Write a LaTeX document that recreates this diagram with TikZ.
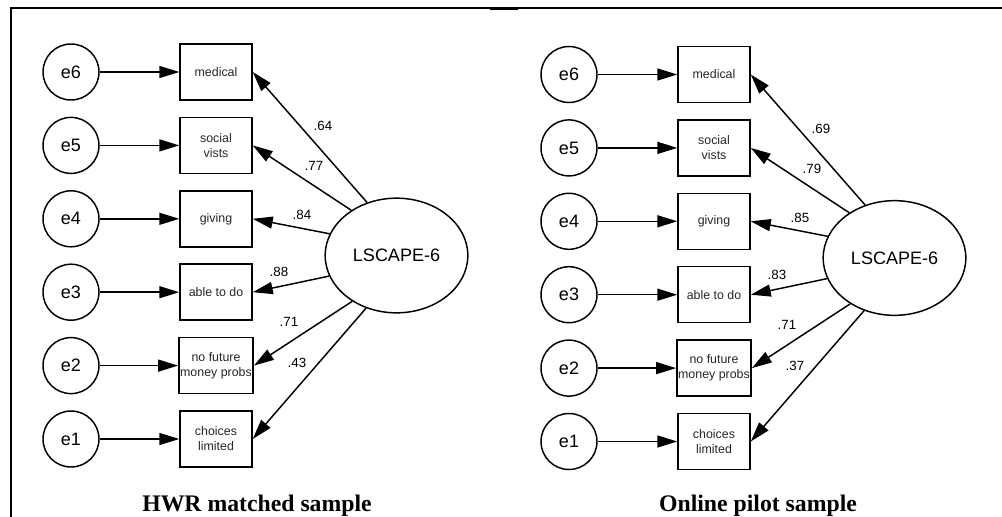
\documentclass[tikz,border=0pt]{standalone}
\usepackage{fontspec}
\setmainfont{Liberation Serif}
\newfontfamily\arialfont{Liberation Sans}
\usetikzlibrary{arrows.meta,shapes.geometric}

\tikzset{
    errnode/.style={draw, circle, line width=1.1pt, minimum size=42pt, inner sep=0pt,
        font=\arialfont\fontsize{13.5}{15}\selectfont},
    obsbox/.style={draw, rectangle, line width=1.1pt, minimum width=54pt, minimum height=42pt,
        inner sep=1pt, align=center, text=black!85, font=\arialfont\fontsize{9.3}{11.25}\selectfont},
    latent/.style={draw, ellipse, line width=1.1pt, minimum width=107pt, minimum height=86pt,
        inner sep=0pt, font=\arialfont\fontsize{13.5}{16}\selectfont},
    loadarrow/.style={line width=1.1pt, -{Triangle[length=15pt, width=9pt]}},
    weight/.style={font=\arialfont\fontsize{10}{11}\selectfont},
    caption/.style={anchor=base, font=\bfseries\fontsize{17.8}{20}\selectfont}
}

\begin{document}
\begin{tikzpicture}[x=0.75pt, y=-0.75pt]
    \useasboundingbox (0,0) rectangle (1002,517);

    % Draw the frame
    \draw[line width=1.6pt] (11,517) -- (11,8) -- (1002,8);
    \draw[line width=2.6pt] (490,8.5) -- (518,8.5);

    % HWR matched sample
    \node[latent] (hwr) at (396.5,255.5) {LSCAPE-6};
    \foreach \i/\txt/\ang/\w/\lx/\ly in {6/medical/119/.64/323/126, 5/{social\\vists}/135/.77/314/166,
        4/giving/162/.84/302/215, 3/able to do/197/.88/279/272,
        2/{no future\\money probs}/226/.71/289/322, 1/{choices\\limited}/240/.43/297/363} {
        \pgfmathsetmacro\yy{72+(6-\i)*73.4}
        \node[errnode] (he\i) at (71,\yy) {e\i};
        \node[obsbox] (hv\i) at (216,\yy) {\txt};
        \draw[loadarrow] (he\i) -- (hv\i);
        \draw[loadarrow] (hwr.\ang) -- (hv\i.east);
        \node[weight] at (\lx,\ly) {\w};
    }
    \node[caption] (hcap) at (257,511) {HWR matched sample};

    % Online pilot sample
    \begin{scope}[shift={(498,2.5)}]
        \node[latent] (onl) at (396.5,255.5) {LSCAPE-6};
        \foreach \i/\txt/\ang/\w/\lx/\ly in {6/medical/119/.69/323/126, 5/{social\\vists}/135/.79/314/166,
            4/giving/162/.85/302/215, 3/able to do/197/.83/279/272,
            2/{no future\\money probs}/226/.71/289/322, 1/{choices\\limited}/240/.37/297/363} {
            \pgfmathsetmacro\yy{72+(6-\i)*73.4}
            \node[errnode] (oe\i) at (71,\yy) {e\i};
            \node[obsbox] (ov\i) at (216,\yy) {\txt};
            \draw[loadarrow] (oe\i) -- (ov\i);
            \draw[loadarrow] (onl.\ang) -- (ov\i.east);
            \node[weight] at (\lx,\ly) {\w};
        }
        \node[caption] (ocap) at (260,508.5) {Online pilot sample};
    \end{scope}
\end{tikzpicture}
\end{document}
